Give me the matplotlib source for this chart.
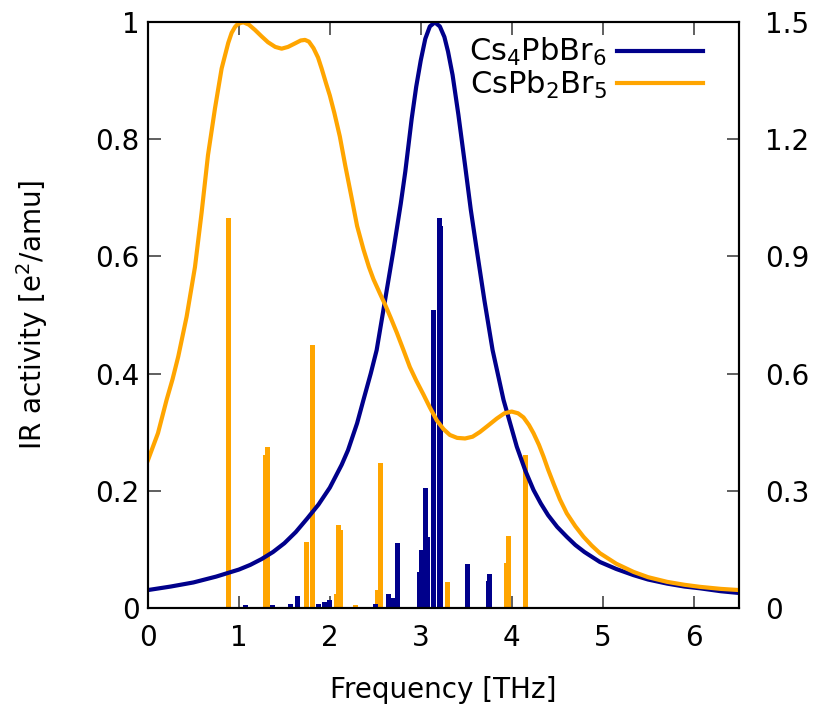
import matplotlib
matplotlib.use("Agg")
import matplotlib.pyplot as plt
from matplotlib.ticker import FuncFormatter

# ---- data ----
# stick spectra (frequency THz, IR activity)
cs4_freq = [1.07, 1.37, 1.565, 1.645, 1.88, 1.945, 2.00, 2.50, 2.65, 2.69, 2.745,
            2.99, 3.005, 3.055, 3.07, 3.14, 3.205, 3.22, 3.515, 3.74, 3.76]
cs4_int = [0.004, 0.004, 0.007, 0.020, 0.007, 0.009, 0.013, 0.007, 0.024, 0.016, 0.111,
           0.061, 0.098, 0.205, 0.120, 0.508, 0.665, 0.652, 0.074, 0.045, 0.058]

cspb2_freq = [0.883, 1.29, 1.31, 1.745, 1.81, 2.07, 2.10, 2.12, 2.28, 2.53, 2.56,
              2.74, 3.295, 3.94, 3.96, 4.156]
cspb2_int = [0.665, 0.260, 0.274, 0.112, 0.448, 0.024, 0.142, 0.132, 0.004, 0.030, 0.247,
             0.054, 0.043, 0.076, 0.123, 0.260]

# broadened spectra (normalised)
cs4_curve_x = [0.0, 0.25, 0.5, 0.75, 1.0, 1.125, 1.25, 1.375, 1.5, 1.625, 1.75, 1.875, 2.0,
               2.13, 2.2, 2.3, 2.37, 2.45, 2.515, 2.607, 2.70, 2.78, 2.83, 2.90, 2.95, 3.0,
               3.05, 3.10, 3.155, 3.21, 3.26, 3.30, 3.35, 3.414, 3.487, 3.55, 3.616, 3.70,
               3.79, 3.91, 4.056, 4.15, 4.24, 4.32, 4.4, 4.5, 4.606, 4.7, 4.8, 4.97, 5.15,
               5.34, 5.5, 5.71, 5.9, 6.07, 6.3, 6.5]
cs4_curve_y = [0.030, 0.036, 0.043, 0.053, 0.065, 0.073, 0.083, 0.095, 0.110, 0.129, 0.152,
               0.176, 0.205, 0.244, 0.269, 0.315, 0.355, 0.400, 0.440, 0.525, 0.611, 0.690,
               0.745, 0.835, 0.890, 0.935, 0.972, 0.993, 1.000, 0.993, 0.975, 0.950, 0.910,
               0.842, 0.756, 0.680, 0.611, 0.525, 0.440, 0.355, 0.275, 0.234, 0.201, 0.178,
               0.158, 0.138, 0.121, 0.107, 0.095, 0.078, 0.066, 0.0555, 0.048, 0.041, 0.036,
               0.033, 0.028, 0.025]

cspb2_curve_x = [0.0, 0.11, 0.205, 0.27, 0.333, 0.425, 0.517, 0.59, 0.66, 0.737, 0.81, 0.883,
                 0.92, 0.957, 0.98, 1.02, 1.05, 1.11, 1.177, 1.25, 1.32, 1.40, 1.47, 1.54,
                 1.617, 1.68, 1.727, 1.77, 1.82, 1.87, 1.91, 1.96, 2.0, 2.05, 2.11, 2.17,
                 2.24, 2.30, 2.37, 2.43, 2.48, 2.55, 2.607, 2.67, 2.736, 2.81, 2.88, 2.95,
                 3.03, 3.10, 3.176, 3.25, 3.32, 3.40, 3.487, 3.57, 3.65, 3.74, 3.836, 3.92,
                 4.0, 4.07, 4.13, 4.19, 4.24, 4.30, 4.35, 4.40, 4.46, 4.53, 4.606, 4.70, 4.79,
                 4.88, 4.97, 5.15, 5.34, 5.5, 5.71, 5.9, 6.07, 6.3, 6.5]
cspb2_curve_y = [0.252, 0.298, 0.355, 0.390, 0.429, 0.497, 0.582, 0.675, 0.773, 0.853, 0.921,
                 0.965, 0.982, 0.992, 0.996, 0.999, 1.000, 0.996, 0.987, 0.976, 0.966, 0.958,
                 0.955, 0.958, 0.964, 0.969, 0.970, 0.967, 0.956, 0.940, 0.921, 0.895, 0.875,
                 0.845, 0.805, 0.755, 0.700, 0.652, 0.612, 0.582, 0.561, 0.537, 0.518, 0.495,
                 0.470, 0.440, 0.411, 0.388, 0.364, 0.342, 0.320, 0.305, 0.295, 0.290, 0.289,
                 0.292, 0.300, 0.311, 0.323, 0.332, 0.335, 0.332, 0.325, 0.312, 0.298, 0.278,
                 0.258, 0.236, 0.212, 0.185, 0.161, 0.139, 0.121, 0.106, 0.093, 0.075, 0.061,
                 0.052, 0.044, 0.039, 0.0355, 0.032, 0.030]

labels = ["Cs$_4$PbBr$_6$", "CsPb$_2$Br$_5$"]
x_ticks = [0, 1, 2, 3, 4, 5, 6]
y_ticks = [0, 0.2, 0.4, 0.6, 0.8, 1.0]
y2_ticks = [0, 0.3, 0.6, 0.9, 1.2, 1.5]

blue = "#00008b"
orange = "#ffa500"

plt.rcParams["font.family"] = ["DejaVu Sans"]
plt.rcParams["font.size"] = 20
plt.rcParams["mathtext.fontset"] = "dejavusans"

fig = plt.figure(figsize=(8.13, 7.09), dpi=100)
ax = fig.add_axes([0.182, 0.143, 0.727, 0.8255])

ax.bar(cspb2_freq, cspb2_int, width=0.056, color=orange, linewidth=0, zorder=2)
ax.bar(cs4_freq, cs4_int, width=0.056, color=blue, linewidth=0, zorder=2)
l1, = ax.plot(cs4_curve_x, cs4_curve_y, color=blue, lw=3, zorder=3, label=labels[0],
              solid_joinstyle="round")
l2, = ax.plot(cspb2_curve_x, cspb2_curve_y, color=orange, lw=3, zorder=4, label=labels[1],
              solid_joinstyle="round")

ax.set_xlim(0, 6.5)
ax.set_ylim(0, 1)
ax.set_xticks(x_ticks)
ax.set_yticks(y_ticks)
fmt = FuncFormatter(lambda v, p: ("%g" % v))
ax.yaxis.set_major_formatter(fmt)
ax.tick_params(direction="in", length=9, width=1.2, color="#444444", top=True, right=False)
ax.tick_params(axis="x", pad=12)
ax.tick_params(axis="y", pad=6)
ax.set_xlabel("Frequency [THz]", labelpad=17)
ax.set_ylabel("IR activity [e$^2$/amu]", labelpad=33)
for s in ax.spines.values():
    s.set_linewidth(1.5)

ax2 = ax.twinx()
ax2.set_ylim(0, 1.5)
ax2.set_yticks(y2_ticks)
ax2.yaxis.set_major_formatter(fmt)
ax2.tick_params(direction="in", length=9, width=1.2, color="#444444", pad=19)
for s in ax2.spines.values():
    s.set_linewidth(1.5)

leg = ax.legend(handles=[l1, l2], loc="upper right", bbox_to_anchor=(0.959, 0.997),
                frameon=False, markerfirst=False,
                handlelength=2.8, handletextpad=0.33, labelspacing=0.0,
                borderaxespad=0.0, fontsize=22)

fig.savefig("out.png", dpi=100)
